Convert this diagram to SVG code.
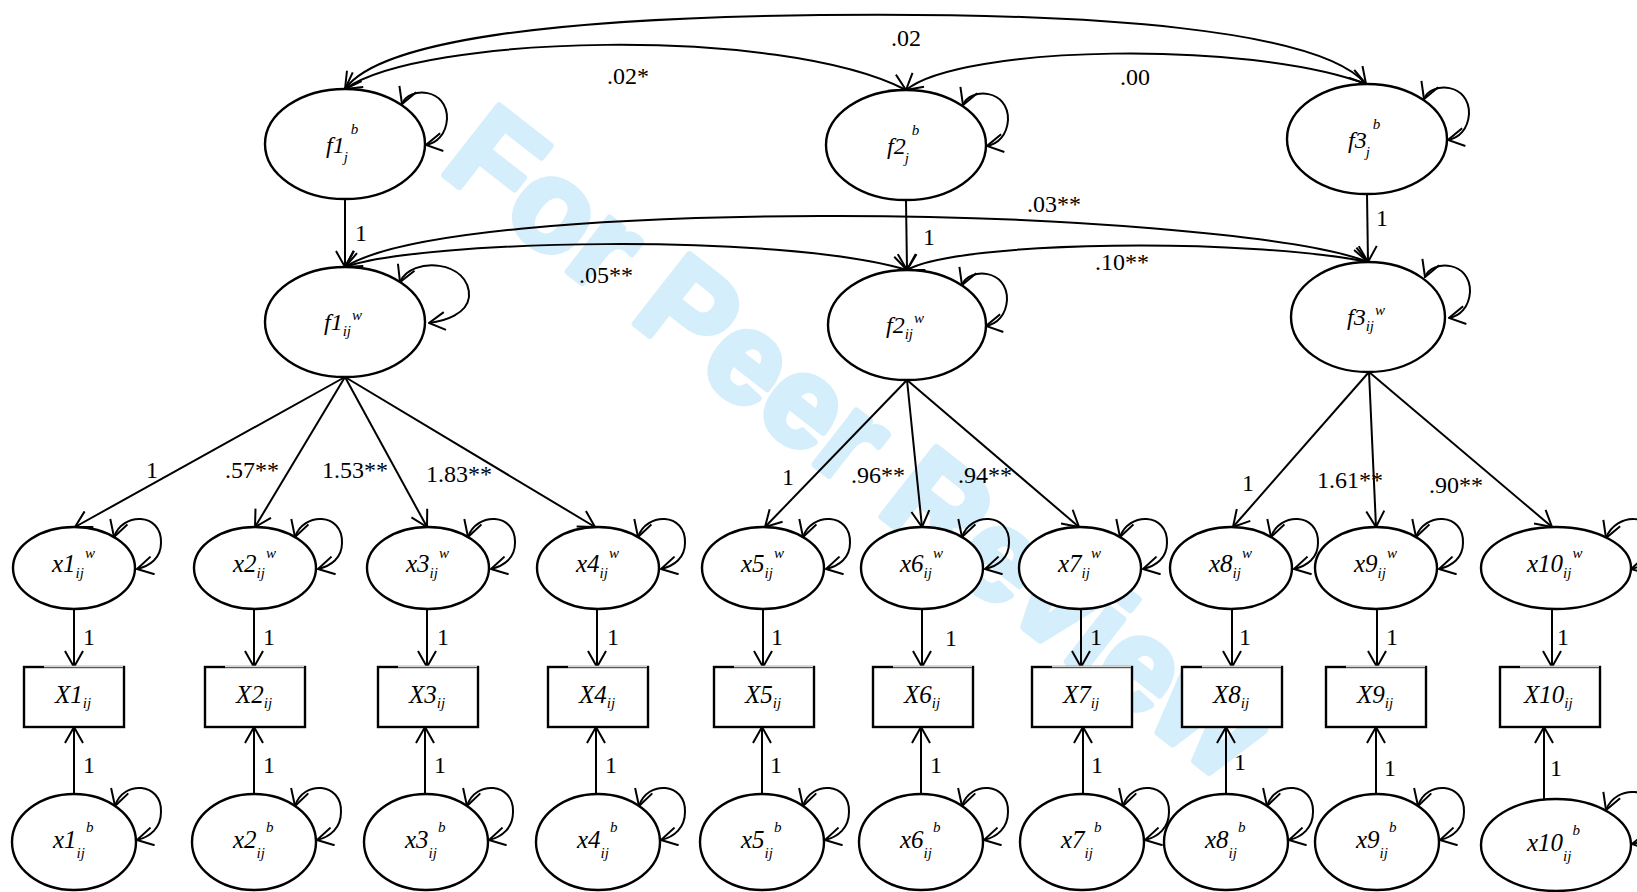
<svg xmlns="http://www.w3.org/2000/svg" xmlns:xlink="http://www.w3.org/1999/xlink" width="1637" height="892" viewBox="0 0 1637 892">
<style>
.n ellipse{fill:#fff;stroke:#000;stroke-width:2.4}
.c path{fill:none;stroke:#000;stroke-width:2}
.c .a{marker-end:url(#ah)}
.c .d{marker-start:url(#ah);marker-end:url(#ah)}
.lab{font-family:"Liberation Serif","Times New Roman",serif;font-size:24px;fill:#000}
.nl{font-family:"Liberation Serif","Times New Roman",serif;font-style:italic;font-size:25px;fill:#000}
.fl{font-family:"Liberation Serif","Times New Roman",serif;font-style:italic;font-size:24px;fill:#000}
.s{font-size:15px}
.wm{font-family:"Liberation Sans",Arial,sans-serif;font-weight:bold;font-size:128px;fill:#d5eefb;stroke:#d5eefb;stroke-width:7;stroke-linejoin:round}
</style>
<defs>
<marker id="ah" viewBox="0 0 18 20" refX="17" refY="10" markerWidth="18" markerHeight="20" markerUnits="userSpaceOnUse" orient="auto-start-reverse">
<path d="M1,1 L17,10 L1,19" fill="none" stroke="#000" stroke-width="2"/>
</marker>
<g id="bxs">
<rect x="0" y="0" width="100" height="60" fill="#fff" stroke="#000" stroke-width="2.4"/>
<line x1="20" y1="0" x2="99" y2="0" stroke="#fff" stroke-width="2.6"/>
<line x1="20" y1="0.3" x2="99" y2="0.3" stroke="#555" stroke-width="1.2"/>
</g>
</defs>
<rect width="1637" height="892" fill="#fff"/>
<text class="wm" x="438" y="170" transform="rotate(38 438 170)">For Peer Review</text>

<g id="connectors" class="c">
<!-- covariances -->
<path class="d" d="M345,89 C380,40 560,18 820,15 C1100,12 1320,30 1366,84"/>
<path class="d" d="M345,89 C420,35 780,25 906,90"/>
<path class="d" d="M906,90 C960,45 1250,40 1366,84"/>
<path class="d" d="M345,267 C400,232 600,217 820,216 C1050,215 1300,235 1368,262"/>
<path class="d" d="M345,267 C420,240 780,232 907,270"/>
<path class="d" d="M907,270 C960,240 1250,238 1368,262"/>
<!-- between to within -->
<path class="a" d="M345,199 L345,267"/>
<path class="a" d="M906,200 L907,270"/>
<path class="a" d="M1367,194 L1368,262"/>
<!-- loadings -->
<path class="a" d="M345,377 L75,527"/>
<path class="a" d="M345,377 L255,527"/>
<path class="a" d="M345,377 L427,527"/>
<path class="a" d="M345,377 L595,527"/>
<path class="a" d="M907,380 L765,527"/>
<path class="a" d="M907,380 L922,527"/>
<path class="a" d="M907,380 L1079,527"/>
<path class="a" d="M1369,372 L1233,527"/>
<path class="a" d="M1369,372 L1376,527"/>
<path class="a" d="M1369,372 L1552,527"/>
<!-- within to observed -->
<path class="a" d="M74,609 L74,667"/>
<path class="a" d="M254,609 L254,667"/>
<path class="a" d="M427,609 L427,667"/>
<path class="a" d="M597,609 L597,667"/>
<path class="a" d="M763,609 L763,667"/>
<path class="a" d="M922,609 L922,667"/>
<path class="a" d="M1081,609 L1081,667"/>
<path class="a" d="M1232,609 L1232,667"/>
<path class="a" d="M1377,609 L1377,667"/>
<path class="a" d="M1552,609 L1552,667"/>
<!-- between to observed -->
<path class="a" d="M74,794 L74,727"/>
<path class="a" d="M254,794 L254,727"/>
<path class="a" d="M425,794 L425,727"/>
<path class="a" d="M596,794 L596,727"/>
<path class="a" d="M762,794 L762,727"/>
<path class="a" d="M921,794 L921,727"/>
<path class="a" d="M1083,794 L1083,727"/>
<path class="a" d="M1226,794 L1226,727"/>
<path class="a" d="M1376,794 L1376,727"/>
<path class="a" d="M1544,799 L1544,727"/>
<!-- variances (self loops) -->
<path class="d" d="M402,104 C409,86 448,88 447,119 C446,134 437,143 426,145"/>
<path class="d" d="M963,105 C970,87 1009,89 1008,120 C1007,135 998,144 987,146"/>
<path class="d" d="M1424,99 C1431,81 1470,83 1469,114 C1468,129 1459,138 1448,140"/>
<path class="d" d="M400,282 C411,256 471,260 469,297 C467,314 445,321 429,323"/>
<path class="d" d="M962,285 C969,267 1008,269 1007,300 C1006,315 997,324 986,326"/>
<path class="d" d="M1425,277 C1432,259 1471,261 1470,292 C1469,307 1460,316 1449,318"/>
<path class="d" d="M114,537 C122,512 162,512 161,543 C161,558 150,566 137,569"/>
<path class="d" d="M295,537 C303,512 343,512 342,543 C342,558 331,566 318,569"/>
<path class="d" d="M468,537 C476,512 516,512 515,543 C515,558 504,566 491,569"/>
<path class="d" d="M638,537 C646,512 686,512 685,543 C685,558 674,566 661,569"/>
<path class="d" d="M803,537 C811,512 851,512 850,543 C850,558 839,566 826,569"/>
<path class="d" d="M962,537 C970,512 1010,512 1009,543 C1009,558 998,566 985,569"/>
<path class="d" d="M1120,537 C1128,512 1168,512 1167,543 C1167,558 1156,566 1143,569"/>
<path class="d" d="M1271,537 C1279,512 1319,512 1318,543 C1318,558 1307,566 1294,569"/>
<path class="d" d="M1416,537 C1424,512 1464,512 1463,543 C1463,558 1452,566 1439,569"/>
<path class="d" d="M1606,538 C1616,512 1656,512 1655,543 C1655,558 1644,566 1631,569"/>
<path class="d" d="M115,806 C123,780 162,782 161,812 C161,828 150,837 137,840"/>
<path class="d" d="M295,806 C303,780 342,782 341,812 C341,828 330,837 317,840"/>
<path class="d" d="M467,806 C475,780 514,782 513,812 C513,828 502,837 489,840"/>
<path class="d" d="M639,806 C647,780 686,782 685,812 C685,828 674,837 661,840"/>
<path class="d" d="M803,806 C811,780 850,782 849,812 C849,828 838,837 825,840"/>
<path class="d" d="M962,806 C970,780 1009,782 1008,812 C1008,828 997,837 984,840"/>
<path class="d" d="M1123,806 C1131,780 1170,782 1169,812 C1169,828 1158,837 1145,840"/>
<path class="d" d="M1267,806 C1275,780 1314,782 1313,812 C1313,828 1302,837 1289,840"/>
<path class="d" d="M1418,806 C1426,780 1465,782 1464,812 C1464,828 1453,837 1440,840"/>
<path class="d" d="M1606,810 C1616,784 1656,786 1655,816 C1655,832 1644,842 1632,844"/>
<!-- labels -->
<text class="lab" x="906" y="46" text-anchor="middle">.02</text>
<text class="lab" x="628" y="84" text-anchor="middle">.02*</text>
<text class="lab" x="1135" y="85" text-anchor="middle">.00</text>
<text class="lab" x="1054" y="212" text-anchor="middle">.03**</text>
<text class="lab" x="606" y="283" text-anchor="middle">.05**</text>
<text class="lab" x="1122" y="270" text-anchor="middle">.10**</text>
<text class="lab" x="361" y="241" text-anchor="middle">1</text>
<text class="lab" x="929" y="245" text-anchor="middle">1</text>
<text class="lab" x="1382" y="226" text-anchor="middle">1</text>
<text class="lab" x="152" y="478" text-anchor="middle">1</text>
<text class="lab" x="252" y="478" text-anchor="middle">.57**</text>
<text class="lab" x="355" y="478" text-anchor="middle">1.53**</text>
<text class="lab" x="459" y="482" text-anchor="middle">1.83**</text>
<text class="lab" x="788" y="485" text-anchor="middle">1</text>
<text class="lab" x="878" y="483" text-anchor="middle">.96**</text>
<text class="lab" x="985" y="483" text-anchor="middle">.94**</text>
<text class="lab" x="1248" y="491" text-anchor="middle">1</text>
<text class="lab" x="1350" y="488" text-anchor="middle">1.61**</text>
<text class="lab" x="1456" y="493" text-anchor="middle">.90**</text>
<text class="lab" x="89" y="645" text-anchor="middle">1</text>
<text class="lab" x="269" y="645" text-anchor="middle">1</text>
<text class="lab" x="443" y="645" text-anchor="middle">1</text>
<text class="lab" x="613" y="645" text-anchor="middle">1</text>
<text class="lab" x="777" y="645" text-anchor="middle">1</text>
<text class="lab" x="951" y="646" text-anchor="middle">1</text>
<text class="lab" x="1096" y="645" text-anchor="middle">1</text>
<text class="lab" x="1245" y="645" text-anchor="middle">1</text>
<text class="lab" x="1392" y="645" text-anchor="middle">1</text>
<text class="lab" x="1563" y="645" text-anchor="middle">1</text>
<text class="lab" x="89" y="773" text-anchor="middle">1</text>
<text class="lab" x="269" y="773" text-anchor="middle">1</text>
<text class="lab" x="440" y="773" text-anchor="middle">1</text>
<text class="lab" x="611" y="773" text-anchor="middle">1</text>
<text class="lab" x="776" y="773" text-anchor="middle">1</text>
<text class="lab" x="936" y="773" text-anchor="middle">1</text>
<text class="lab" x="1097" y="773" text-anchor="middle">1</text>
<text class="lab" x="1240" y="770" text-anchor="middle">1</text>
<text class="lab" x="1390" y="776" text-anchor="middle">1</text>
<text class="lab" x="1556" y="776" text-anchor="middle">1</text>
</g>

<g id="f1b" class="n"><ellipse cx="345" cy="144" rx="80" ry="55"/><text class="fl" x="326" y="153">f1<tspan class="s" dx="-1" dy="9">j</tspan><tspan class="s" dx="3" dy="-28">b</tspan></text></g>
<g id="f2b" class="n"><ellipse cx="906" cy="145" rx="80" ry="55"/><text class="fl" x="887" y="154">f2<tspan class="s" dx="-1" dy="9">j</tspan><tspan class="s" dx="3" dy="-28">b</tspan></text></g>
<g id="f3b" class="n"><ellipse cx="1367" cy="139" rx="80" ry="55"/><text class="fl" x="1348" y="148">f3<tspan class="s" dx="-1" dy="9">j</tspan><tspan class="s" dx="3" dy="-28">b</tspan></text></g>
<g id="f1w" class="n"><ellipse cx="345" cy="322" rx="80" ry="55"/><text class="fl" x="324" y="330">f1<tspan class="s" dy="6">ij</tspan><tspan class="s" dx="1" dy="-16">w</tspan></text></g>
<g id="f2w" class="n"><ellipse cx="907" cy="325" rx="79" ry="55"/><text class="fl" x="886" y="333">f2<tspan class="s" dy="6">ij</tspan><tspan class="s" dx="1" dy="-16">w</tspan></text></g>
<g id="f3w" class="n"><ellipse cx="1368" cy="317" rx="77" ry="55"/><text class="fl" x="1347" y="325">f3<tspan class="s" dy="6">ij</tspan><tspan class="s" dx="1" dy="-16">w</tspan></text></g>

<g id="x1w" class="n"><ellipse cx="74" cy="568" rx="61" ry="41"/><text class="nl" x="52" y="572">x1<tspan class="s" dy="6">ij</tspan><tspan class="s" dx="1" dy="-20">w</tspan></text></g>
<g id="x2w" class="n"><ellipse cx="255" cy="568" rx="61" ry="41"/><text class="nl" x="233" y="572">x2<tspan class="s" dy="6">ij</tspan><tspan class="s" dx="1" dy="-20">w</tspan></text></g>
<g id="x3w" class="n"><ellipse cx="428" cy="568" rx="61" ry="41"/><text class="nl" x="406" y="572">x3<tspan class="s" dy="6">ij</tspan><tspan class="s" dx="1" dy="-20">w</tspan></text></g>
<g id="x4w" class="n"><ellipse cx="598" cy="568" rx="61" ry="41"/><text class="nl" x="576" y="572">x4<tspan class="s" dy="6">ij</tspan><tspan class="s" dx="1" dy="-20">w</tspan></text></g>
<g id="x5w" class="n"><ellipse cx="763" cy="568" rx="61" ry="41"/><text class="nl" x="741" y="572">x5<tspan class="s" dy="6">ij</tspan><tspan class="s" dx="1" dy="-20">w</tspan></text></g>
<g id="x6w" class="n"><ellipse cx="922" cy="568" rx="61" ry="41"/><text class="nl" x="900" y="572">x6<tspan class="s" dy="6">ij</tspan><tspan class="s" dx="1" dy="-20">w</tspan></text></g>
<g id="x7w" class="n"><ellipse cx="1080" cy="568" rx="61" ry="41"/><text class="nl" x="1058" y="572">x7<tspan class="s" dy="6">ij</tspan><tspan class="s" dx="1" dy="-20">w</tspan></text></g>
<g id="x8w" class="n"><ellipse cx="1231" cy="568" rx="61" ry="41"/><text class="nl" x="1209" y="572">x8<tspan class="s" dy="6">ij</tspan><tspan class="s" dx="1" dy="-20">w</tspan></text></g>
<g id="x9w" class="n"><ellipse cx="1376" cy="568" rx="61" ry="41"/><text class="nl" x="1354" y="572">x9<tspan class="s" dy="6">ij</tspan><tspan class="s" dx="1" dy="-20">w</tspan></text></g>
<g id="x10w" class="n"><ellipse cx="1556" cy="568" rx="75" ry="41"/><text class="nl" x="1527" y="572">x10<tspan class="s" dy="6">ij</tspan><tspan class="s" dx="1" dy="-20">w</tspan></text></g>

<g id="X1"><use xlink:href="#bxs" x="24" y="667"/><text class="nl" x="55" y="703">X1<tspan class="s" dy="5">ij</tspan></text></g>
<g id="X2"><use xlink:href="#bxs" x="205" y="667"/><text class="nl" x="236" y="703">X2<tspan class="s" dy="5">ij</tspan></text></g>
<g id="X3"><use xlink:href="#bxs" x="378" y="667"/><text class="nl" x="409" y="703">X3<tspan class="s" dy="5">ij</tspan></text></g>
<g id="X4"><use xlink:href="#bxs" x="548" y="667"/><text class="nl" x="579" y="703">X4<tspan class="s" dy="5">ij</tspan></text></g>
<g id="X5"><use xlink:href="#bxs" x="714" y="667"/><text class="nl" x="745" y="703">X5<tspan class="s" dy="5">ij</tspan></text></g>
<g id="X6"><use xlink:href="#bxs" x="873" y="667"/><text class="nl" x="904" y="703">X6<tspan class="s" dy="5">ij</tspan></text></g>
<g id="X7"><use xlink:href="#bxs" x="1032" y="667"/><text class="nl" x="1063" y="703">X7<tspan class="s" dy="5">ij</tspan></text></g>
<g id="X8"><use xlink:href="#bxs" x="1182" y="667"/><text class="nl" x="1213" y="703">X8<tspan class="s" dy="5">ij</tspan></text></g>
<g id="X9"><use xlink:href="#bxs" x="1326" y="667"/><text class="nl" x="1357" y="703">X9<tspan class="s" dy="5">ij</tspan></text></g>
<g id="X10"><use xlink:href="#bxs" x="1500" y="667"/><text class="nl" x="1524" y="703">X10<tspan class="s" dy="5">ij</tspan></text></g>

<g id="x1b" class="n"><ellipse cx="74" cy="842" rx="62" ry="48"/><text class="nl" x="53" y="848">x1<tspan class="s" dy="10">ij</tspan><tspan class="s" dx="1" dy="-26">b</tspan></text></g>
<g id="x2b" class="n"><ellipse cx="254" cy="842" rx="62" ry="48"/><text class="nl" x="233" y="848">x2<tspan class="s" dy="10">ij</tspan><tspan class="s" dx="1" dy="-26">b</tspan></text></g>
<g id="x3b" class="n"><ellipse cx="426" cy="842" rx="62" ry="48"/><text class="nl" x="405" y="848">x3<tspan class="s" dy="10">ij</tspan><tspan class="s" dx="1" dy="-26">b</tspan></text></g>
<g id="x4b" class="n"><ellipse cx="598" cy="842" rx="62" ry="48"/><text class="nl" x="577" y="848">x4<tspan class="s" dy="10">ij</tspan><tspan class="s" dx="1" dy="-26">b</tspan></text></g>
<g id="x5b" class="n"><ellipse cx="762" cy="842" rx="62" ry="48"/><text class="nl" x="741" y="848">x5<tspan class="s" dy="10">ij</tspan><tspan class="s" dx="1" dy="-26">b</tspan></text></g>
<g id="x6b" class="n"><ellipse cx="921" cy="842" rx="62" ry="48"/><text class="nl" x="900" y="848">x6<tspan class="s" dy="10">ij</tspan><tspan class="s" dx="1" dy="-26">b</tspan></text></g>
<g id="x7b" class="n"><ellipse cx="1082" cy="842" rx="62" ry="48"/><text class="nl" x="1061" y="848">x7<tspan class="s" dy="10">ij</tspan><tspan class="s" dx="1" dy="-26">b</tspan></text></g>
<g id="x8b" class="n"><ellipse cx="1226" cy="842" rx="62" ry="48"/><text class="nl" x="1205" y="848">x8<tspan class="s" dy="10">ij</tspan><tspan class="s" dx="1" dy="-26">b</tspan></text></g>
<g id="x9b" class="n"><ellipse cx="1377" cy="842" rx="62" ry="48"/><text class="nl" x="1356" y="848">x9<tspan class="s" dy="10">ij</tspan><tspan class="s" dx="1" dy="-26">b</tspan></text></g>
<g id="x10b" class="n"><ellipse cx="1556" cy="845" rx="75" ry="46"/><text class="nl" x="1527" y="851">x10<tspan class="s" dy="10">ij</tspan><tspan class="s" dx="1" dy="-26">b</tspan></text></g>
</svg>
